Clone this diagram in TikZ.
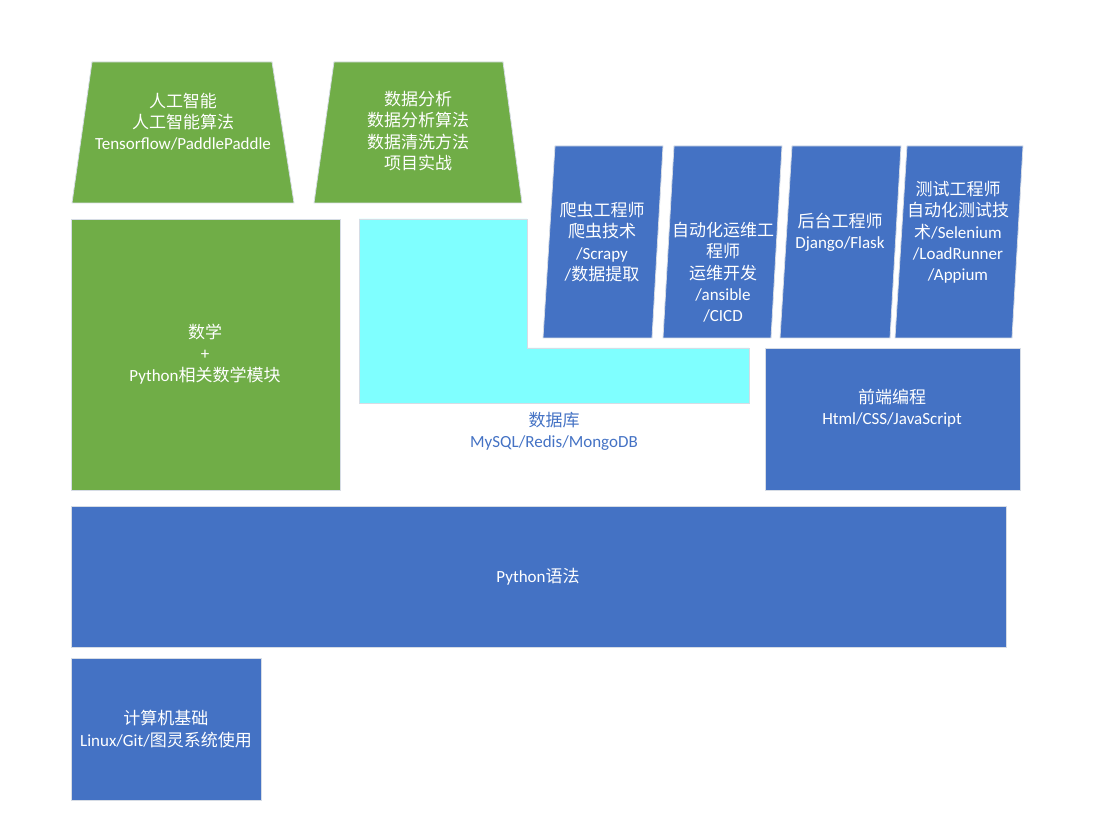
\documentclass[tikz,border=0pt]{standalone}
\usepackage{fontspec}
\setmainfont{Carlito}
\newfontfamily\cjk{Noto Sans CJK SC}
\newcommand\zh[1]{{\cjk #1}}
\definecolor{grn}{HTML}{70AD47}
\definecolor{blu}{HTML}{4472C4}
\definecolor{cyn}{HTML}{7FFFFF}
\definecolor{edge}{HTML}{D6DCE5}
\tikzset{
  gshape/.style={fill=grn, draw=edge, line width=0.8pt},
  bshape/.style={fill=blu, draw=edge, line width=0.8pt},
  cshape/.style={fill=cyn, draw=edge, line width=0.8pt},
  lbl/.style={text=white, align=center, inner sep=0pt, font=\fontsize{17}{21.3}\selectfont},
  dblbl/.style={lbl, text=blu}
}
\begin{document}
\begin{tikzpicture}[x=1pt,y=-1pt]
\useasboundingbox (0,0) rectangle (1120,834);
% green trapezoids
\path[gshape] (92,62) -- (272,62) -- (294,203) -- (72,203) -- cycle;
\path[gshape] (334,62) -- (503,62) -- (522,203) -- (314,203) -- cycle;
% math
\path[gshape] (71,219) rectangle (340,490);
% cyan L
\path[cshape] (359,219) -- (527,219) -- (527,348) -- (749,348) -- (749,403) -- (359,403) -- cycle;
% parallelograms
\path[bshape] (555,146) -- (663,146) -- (652,338) -- (543,338) -- cycle;
\path[bshape] (674,146) -- (782,146) -- (771,338) -- (663,338) -- cycle;
\path[bshape] (792,146) -- (901,146) -- (890,338) -- (780,338) -- cycle;
\path[bshape] (907,146) -- (1023,146) -- (1012,338) -- (895,338) -- cycle;
% front end
\path[bshape] (765,348) rectangle (1020,490);
% python
\path[bshape] (71,506) rectangle (1006,647);
% computer basics
\path[bshape] (71,658) rectangle (261,800);

% labels
\node[lbl] (ai) at (183,121.5) {\zh{人工智能}\\\zh{人工智能算法}\\Tensorflow/PaddlePaddle};
\node[lbl] (da) at (418,131) {\zh{数据分析}\\\zh{数据分析算法}\\\zh{数据清洗方法}\\\zh{项目实战}};
\node[lbl] (math) at (205,354) {\zh{数学}\\+\\Python\zh{相关数学模块}};
\node[lbl] (crawl) at (602,242) {\zh{爬虫工程师}\\\zh{爬虫技术}\\/Scrapy\\/\zh{数据提取}};
\node[lbl] (ops) at (723,272.5) {\zh{自动化运维工}\\\zh{程师}\\\zh{运维开发}\\/ansible\\/CICD};
\node[lbl] (back) at (840,232.5) {\zh{后台工程师}\\Django/Flask};
\node[lbl] (test) at (958,232.5) {\zh{测试工程师}\\\zh{自动化测试技}\\\zh{术}/Selenium\\/LoadRunner\\/Appium};
\node[lbl] (front) at (892,408.5) {\zh{前端编程}\\Html/CSS/JavaScript};
\node[lbl] (py) at (538,577) {Python\zh{语法}};
\node[lbl] (cs) at (166,729) {\zh{计算机基础}\\Linux/Git/\zh{图灵系统使用}};
\node[dblbl] (db) at (554,431) {\zh{数据库}\\MySQL/Redis/MongoDB};
\end{tikzpicture}
\end{document}
